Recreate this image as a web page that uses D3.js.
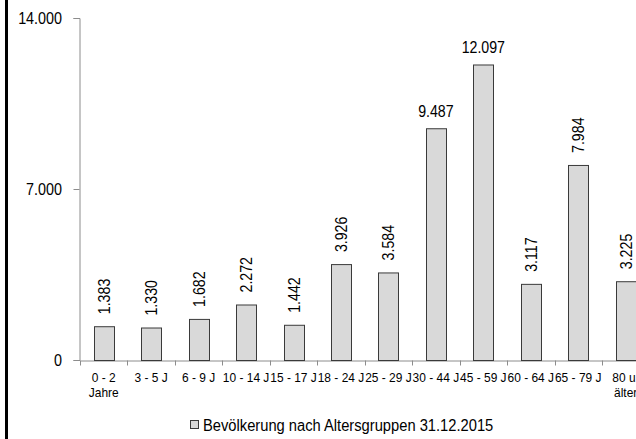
<!DOCTYPE html>
<html><head><meta charset="utf-8">
<script src="https://cdn.jsdelivr.net/npm/d3@7/dist/d3.min.js"></script>
<style>
body{margin:0;background:#fff;}
svg{display:block;font-family:"Liberation Sans",Arial,sans-serif;}
</style></head>
<body>
<svg id="c" width="636" height="439"></svg>
<script>
const categories = [["0 - 2","Jahre"],["3 - 5 J"],["6 - 9 J"],["10 - 14 J"],["15 - 17 J"],["18 - 24 J"],["25 - 29 J"],["30 - 44 J"],["45 - 59 J"],["60 - 64 J"],["65 - 79 J"],["80 u.","älter"]];
const values = [1383,1330,1682,2272,1442,3926,3584,9487,12097,3117,7984,3225];
const yTicks = [0,7000,14000];
const seriesName = "Bevölkerung nach Altersgruppen 31.12.2015";
const horizontalLabelIdx = [7,8];

const svg = d3.select("#c");
const fmt = d3.formatLocale({decimal:",",thousands:".",grouping:[3],currency:["","€"]}).format(",d");
const keys = categories.map(c=>c.join(" "));
const x = d3.scaleBand().domain(keys).range([80, 80+12*47.45]).paddingInner(0).paddingOuter(0);
const y = d3.scaleLinear().domain([0,14000]).range([360,18]);

// condensed text helper
function txt(g, px, py, lines, size, sx, anchor, rot, lh){
  const t = g.append("text")
    .attr("transform",`translate(${px},${py})${rot?` rotate(${rot})`:""} scale(${sx},1)`)
    .attr("text-anchor",anchor).attr("font-size",size).attr("fill","#000");
  lines.forEach((l,j)=>t.append("tspan").attr("x",0).attr("dy",j?lh:0).text(l));
  return t;
}

// left border
svg.append("rect").attr("x",5).attr("y",0).attr("width",3).attr("height",439).attr("fill","#000");

// y axis
const ya = svg.append("g").attr("transform","translate(79.5,0)")
  .call(d3.axisLeft(y).tickValues(yTicks).tickFormat("").tickSize(6));
ya.select(".domain").attr("stroke","#8c8c8c");
ya.selectAll(".tick line").attr("stroke","#8c8c8c");
const yl = svg.append("g");
yTicks.forEach(v=>txt(yl, 62, y(v)+6, [fmt(v)], 16.5, 0.87, "end", 0));

// x axis
const xa = svg.append("g").attr("transform","translate(0,360.5)")
  .call(d3.axisBottom(x).tickSize(0).tickFormat(""));
xa.select(".domain").attr("stroke","#8c8c8c");
const bounds = keys.map(k=>x(k)).concat([x(keys[keys.length-1])+x.bandwidth()]);
xa.selectAll(".tb").data(bounds).enter().append("line")
  .attr("x1",d=>Math.round(d)+0.5).attr("x2",d=>Math.round(d)+0.5).attr("y1",0).attr("y2",5).attr("stroke","#8c8c8c");
// category labels
const cl = svg.append("g");
categories.forEach((c,i)=>txt(cl, x(keys[i])+x.bandwidth()/2, 382, c, 13, 0.92, "middle", 0, 15));

// bars
const bw = 20;
svg.append("g").selectAll("rect").data(values).enter().append("rect")
  .attr("x",(d,i)=>Math.round(x(keys[i])+(x.bandwidth()-bw)/2)+0.5)
  .attr("y",d=>y(d)+0.5).attr("width",bw).attr("height",d=>y(0)-y(d))
  .attr("fill","#d9d9d9").attr("stroke","#3a3a3a").attr("stroke-width",1);

// value labels
const vl = svg.append("g");
values.forEach((v,i)=>{
  const cx = x(keys[i])+x.bandwidth()/2;
  if(horizontalLabelIdx.includes(i)){
    txt(vl, cx, y(v)-11, [fmt(v)], 16.5, 0.86, "middle", 0);
  } else {
    txt(vl, cx+6, y(v)-12, [fmt(v)], 16.5, 0.86, "start", -90);
  }
});

// legend
const lg = svg.append("g");
lg.append("rect").attr("x",190.5).attr("y",420.5).attr("width",8).attr("height",8)
  .attr("fill","#d9d9d9").attr("stroke","#3a3a3a");
txt(lg, 203, 431, [seriesName], 16, 0.92, "start", 0);
</script>
</body></html>
